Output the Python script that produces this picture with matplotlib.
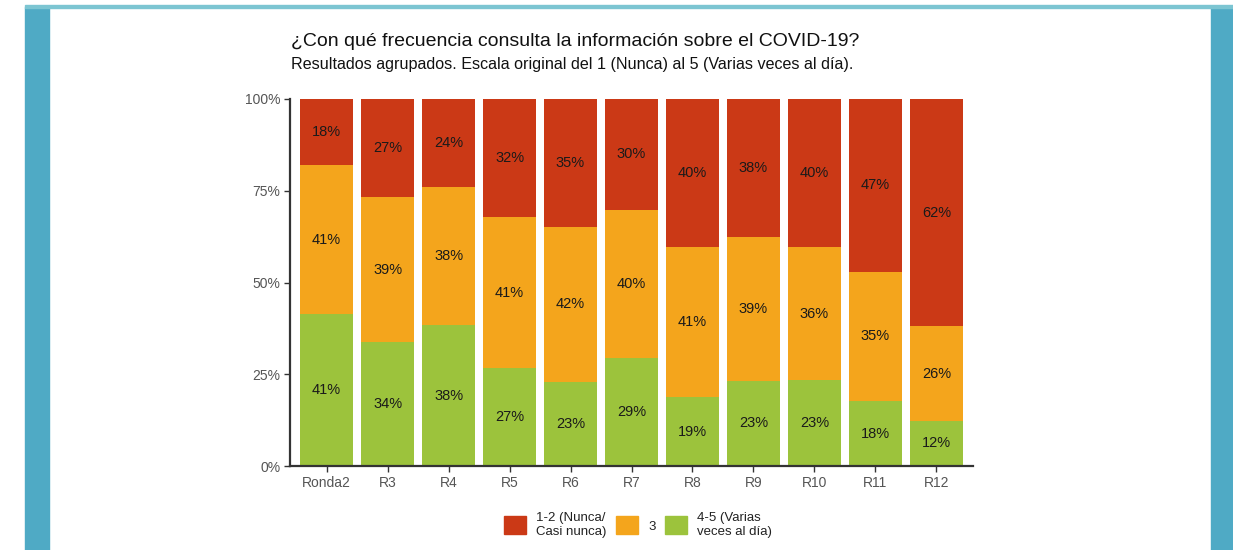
import matplotlib
matplotlib.use("Agg")
import matplotlib.pyplot as plt
from matplotlib.patches import Rectangle, Patch
import numpy as np

plt.rcParams['font.family'] = ['Liberation Sans', 'DejaVu Sans']

rondas = ["Ronda2", "R3", "R4", "R5", "R6", "R7", "R8", "R9", "R10", "R11", "R12"]
# porcentajes: 4-5 (verde), 3 (naranja), 1-2 (rojo)
frecuente = [41.4, 33.8, 38.4, 26.6, 23.0, 29.4, 18.8, 23.2, 23.4, 17.7, 12.3]
medio = [40.6, 39.4, 37.6, 41.3, 42.2, 40.4, 40.9, 39.2, 36.3, 35.2, 25.8]
nunca = [18.0, 26.8, 24.0, 32.1, 34.8, 30.2, 40.3, 37.6, 40.3, 47.1, 61.9]
leyenda = ["1-2 (Nunca/\nCasi nunca)", "3", "4-5 (Varias\nveces al día)"]

c_rojo = "#CB3916"
c_naranja = "#F4A51C"
c_verde = "#9CC33C"

fig = plt.figure(figsize=(12.33, 5.5), dpi=100)

# marco azul
fig.patches.append(Rectangle((25/1233, 0), 24/1233, 1 - 7/550, transform=fig.transFigure,
                             color="#4FAAC5", zorder=0))
fig.patches.append(Rectangle((1211/1233, 0), 22/1233, 1 - 7/550, transform=fig.transFigure,
                             color="#4FAAC5", zorder=0))
fig.patches.append(Rectangle((25/1233, 1 - 8/550), 1208/1233, 3/550, transform=fig.transFigure,
                             color="#7CC5D2", zorder=0))

ax = fig.add_axes([290/1233, 1 - 466/550, 683/1233, 367/550])

x = np.arange(len(rondas))
verde = np.array(frecuente)
naranja = np.array(medio)
rojo = np.array(nunca)
w = 0.88
ax.bar(x, verde, width=w, color=c_verde)
ax.bar(x, naranja, width=w, bottom=verde, color=c_naranja)
ax.bar(x, rojo, width=w, bottom=verde + naranja, color=c_rojo)

for i in range(len(x)):
    ax.text(x[i], verde[i] / 2, f"{round(verde[i])}%", ha="center", va="center",
            fontsize=10.5, color="#1a1a1a")
    ax.text(x[i], verde[i] + naranja[i] / 2, f"{round(naranja[i])}%", ha="center", va="center",
            fontsize=10.5, color="#1a1a1a")
    ax.text(x[i], verde[i] + naranja[i] + rojo[i] / 2, f"{round(rojo[i])}%", ha="center",
            va="center", fontsize=10.5, color="#1a1a1a")

ax.set_xlim(-0.6, 10.6)
ax.set_ylim(0, 100)
ax.set_yticks([0, 25, 50, 75, 100])
ax.set_yticklabels(["0%", "25%", "50%", "75%", "100%"])
ax.set_xticks(x)
ax.set_xticklabels(rondas)
ax.tick_params(colors="#333333", labelcolor="#555555", labelsize=10, length=4, width=1, pad=3)
for s in ["top", "right"]:
    ax.spines[s].set_visible(False)
for s in ["left", "bottom"]:
    ax.spines[s].set_color("#333333")
    ax.spines[s].set_linewidth(1.6)

fig.text(291/1233, 1 - 42/550, "¿Con qué frecuencia consulta la información sobre el COVID-19?",
         fontsize=14, va="center", color="#111111")
fig.text(291/1233, 1 - 65/550, "Resultados agrupados. Escala original del 1 (Nunca) al 5 (Varias veces al día).",
         fontsize=11.6, va="center", color="#111111")

handles = [Patch(color=c_rojo), Patch(color=c_naranja), Patch(color=c_verde)]
fig.legend(handles, leyenda, loc="center", bbox_to_anchor=(638/1233, 1 - 525/550), ncol=3,
           frameon=False, fontsize=9.5, handlelength=1.7, handleheight=1.7,
           handletextpad=0.75, columnspacing=0.7, labelcolor="#222222",
           prop={'size': 9.5})

fig.savefig("out.png", dpi=100, facecolor="white")
